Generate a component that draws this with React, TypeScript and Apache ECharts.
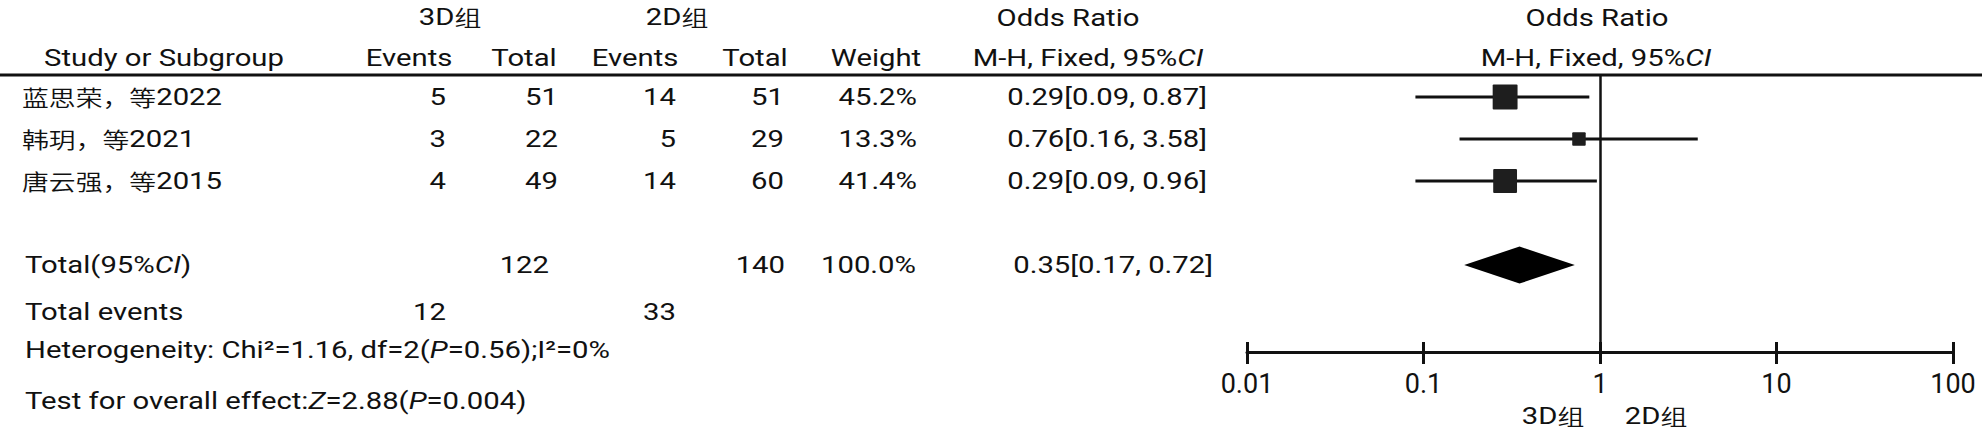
import React, { useEffect, useRef } from "react";
import * as echarts from "echarts";

// ---------- data ----------
const studies = ["蓝思荣，等2022", "韩玥，等2021", "唐云强，等2015"];
const events3D = [5, 3, 4];
const total3D = [51, 22, 49];
const events2D = [14, 5, 14];
const total2D = [51, 29, 60];
const weights = [45.2, 13.3, 41.4];
const orValues = [0.29, 0.76, 0.29];
const ciLow = [0.09, 0.16, 0.09];
const ciHigh = [0.87, 3.58, 0.96];

const pooledOR = 0.35;
const pooledLow = 0.17;
const pooledHigh = 0.72;
const pooledWeight = 100.0;
const pooledRow = 4;

const sumTotal3D = 122;
const sumTotal2D = 140;
const sumEvents3D = 12;
const sumEvents2D = 33;

const hetChi2 = "1.16";
const hetDf = "2";
const hetP = "0.56";
const hetI2 = "0%";
const effectZ = "2.88";
const effectP = "0.004";

const groupA = "3D组";
const groupB = "2D组";
const axisMin = 0.01;
const axisMax = 100;

// ---------- layout / style ----------
const LATIN = 'Roboto, "Noto Sans CJK SC", sans-serif';
const CJK = '"Noto Sans CJK SC", sans-serif';
const FS = 24;
const SX = 1.22;
const INK = "#111";
const RICH = {
  i: { fontStyle: "italic", fontSize: FS, fontWeight: 400, fontFamily: LATIN, fill: INK },
  c: { fontSize: 22, fontWeight: 350, fontFamily: CJK, fill: INK },
};

const wrapCJK = (s: string) =>
  s.replace(/([\u2E80-\u9FFF\uF900-\uFAFF\uFF00-\uFFEF\u3000-\u303F]+)/g, "{c|$1}");

const rowY = (i: number) => 97 + 42 * i;

function txt(text: string, x: number, y: number, align: string = "left") {
  return {
    type: "text",
    x,
    y,
    scaleX: SX,
    silent: true,
    style: {
      text: wrapCJK(text),
      fontSize: FS,
      fontWeight: 400,
      fontFamily: LATIN,
      fill: INK,
      align,
      verticalAlign: "middle",
      textAlign: align,
      textVerticalAlign: "middle",
      rich: RICH,
    },
  };
}

const fmtCI = (o: number, l: number, h: number) =>
  `${o.toFixed(2)}[${l.toFixed(2)}, ${h.toFixed(2)}]`;

export default function App() {
  const ref = useRef<HTMLDivElement>(null);

  useEffect(() => {
    if (!ref.current) return;
    const chart = echarts.init(ref.current, undefined, { renderer: "svg" });

    const graphics: any[] = [];
    // header line
    graphics.push({
      type: "line",
      silent: true,
      shape: { x1: 0, y1: 75, x2: 1982, y2: 75 },
      style: { stroke: INK, lineWidth: 3 },
    });
    // header row 1
    graphics.push(txt(groupA, 450, 17, "center"));
    graphics.push(txt(groupB, 677, 17, "center"));
    graphics.push(txt("Odds Ratio", 1068, 18, "center"));
    graphics.push(txt("Odds Ratio", 1597, 18, "center"));
    // header row 2
    graphics.push(txt("Study or Subgroup", 164, 58, "center"));
    graphics.push(txt("Events", 409, 58, "center"));
    graphics.push(txt("Total", 524, 58, "center"));
    graphics.push(txt("Events", 635, 58, "center"));
    graphics.push(txt("Total", 755, 58, "center"));
    graphics.push(txt("Weight", 876, 58, "center"));
    graphics.push(txt("M-H, Fixed, 95%{i|CI}", 1088, 58, "center"));
    graphics.push(txt("M-H, Fixed, 95%{i|CI}", 1596, 58, "center"));

    // study rows
    studies.forEach((name, i) => {
      const y = rowY(i);
      graphics.push(txt(name, 22, y, "left"));
      graphics.push(txt(String(events3D[i]), 446, y, "right"));
      graphics.push(txt(String(total3D[i]), 558, y, "right"));
      graphics.push(txt(String(events2D[i]), 676, y, "right"));
      graphics.push(txt(String(total2D[i]), 784, y, "right"));
      graphics.push(txt(`${weights[i].toFixed(1)}%`, 917, y, "right"));
      graphics.push(txt(fmtCI(orValues[i], ciLow[i], ciHigh[i]), 1207, y, "right"));
    });

    // total row
    const ty = rowY(pooledRow);
    graphics.push(txt("Total(95%{i|CI})", 25, ty, "left"));
    graphics.push(txt(String(sumTotal3D), 549, ty, "right"));
    graphics.push(txt(String(sumTotal2D), 785, ty, "right"));
    graphics.push(txt(`${pooledWeight.toFixed(1)}%`, 916, ty, "right"));
    graphics.push(txt(fmtCI(pooledOR, pooledLow, pooledHigh), 1213, ty, "right"));

    // total events
    graphics.push(txt("Total events", 25, 312, "left"));
    graphics.push(txt(String(sumEvents3D), 446, 312, "right"));
    graphics.push(txt(String(sumEvents2D), 676, 312, "right"));

    graphics.push(
      txt(
        `Heterogeneity: Chi²=${hetChi2}, df=${hetDf}({i|P}=${hetP});I²=${hetI2}`,
        25,
        350,
        "left"
      )
    );
    graphics.push(
      txt(
        `Test for overall effect:{i|Z}=${effectZ}({i|P}=${effectP})`,
        25,
        401,
        "left"
      )
    );

    // favours labels
    graphics.push(txt(groupA, 1553, 416, "center"));
    graphics.push(txt(groupB, 1656, 416, "center"));

    const studyData = studies.map((_, i) => [
      ciLow[i],
      ciHigh[i],
      orValues[i],
      weights[i],
      i,
    ]);

    const option: any = {
      animation: false,
      backgroundColor: "#fff",
      grid: { left: 1247, width: 706, top: 76, height: 276 },
      xAxis: [
        {
          type: "log",
          logBase: 10,
          min: axisMin,
          max: axisMax,
          position: "bottom",
          axisLine: { show: true, onZero: false, lineStyle: { color: INK, width: 3 } },
          axisTick: { show: true, inside: false, length: 12, lineStyle: { color: INK, width: 3 } },
          axisLabel: {
            show: true,
            margin: 18,
            color: INK,
            fontSize: 27,
            fontFamily: "Roboto, sans-serif",
            formatter: (v: number) => String(+v.toPrecision(6)),
          },
          splitLine: { show: false },
          minorTick: { show: false },
        },
        {
          type: "log",
          logBase: 10,
          min: axisMin,
          max: axisMax,
          position: "bottom",
          axisLine: { show: false, onZero: false },
          axisTick: { show: true, inside: true, length: 10, lineStyle: { color: INK, width: 3 } },
          axisLabel: { show: false },
          splitLine: { show: false },
        },
      ],
      yAxis: {
        type: "value",
        inverse: true,
        min: -0.5,
        max: 6.07,
        show: false,
        splitLine: { show: false },
      },
      graphic: { elements: graphics },
      series: [
        {
          type: "custom",
          name: "studies",
          xAxisIndex: 0,
          encode: { x: [0, 1, 2], y: 4 },
          data: studyData,
          renderItem: (params: any, api: any) => {
            const lo = api.value(0);
            const hi = api.value(1);
            const o = api.value(2);
            const w = api.value(3);
            const r = api.value(4);
            const p1 = api.coord([lo, r]);
            const p2 = api.coord([hi, r]);
            const c = api.coord([o, r]);
            const s = Math.sqrt(w) * 3.7;
            return {
              type: "group",
              children: [
                {
                  type: "line",
                  shape: { x1: p1[0], y1: p1[1], x2: p2[0], y2: p2[1] },
                  style: { stroke: INK, lineWidth: 3 },
                },
                {
                  type: "rect",
                  shape: { x: c[0] - s / 2, y: c[1] - s / 2, width: s, height: s, r: 1 },
                  style: { fill: "#1e1e1e" },
                },
              ],
            };
          },
          z: 3,
        },
        {
          type: "custom",
          name: "pooled",
          xAxisIndex: 0,
          encode: { x: [0, 1, 2], y: 3 },
          data: [[pooledLow, pooledHigh, pooledOR, pooledRow]],
          renderItem: (params: any, api: any) => {
            const lo = api.coord([api.value(0), api.value(3)]);
            const hi = api.coord([api.value(1), api.value(3)]);
            const c = api.coord([api.value(2), api.value(3)]);
            const h = 18.5;
            return {
              type: "polygon",
              shape: {
                points: [
                  [lo[0], lo[1]],
                  [c[0], c[1] - h],
                  [hi[0], hi[1]],
                  [c[0], c[1] + h],
                ],
              },
              style: { fill: "#000" },
            };
          },
          markLine: {
            silent: true,
            symbol: "none",
            label: { show: false },
            lineStyle: { color: INK, width: 2.5, type: "solid" },
            data: [{ xAxis: 1 }],
          },
          z: 3,
        },
      ],
    };

    chart.setOption(option);
    return () => chart.dispose();
  }, []);

  return (
    <div
      ref={ref}
      style={{
        position: "fixed",
        left: 0,
        top: 0,
        width: 1982,
        height: 436,
        background: "#fff",
      }}
    />
  );
}
